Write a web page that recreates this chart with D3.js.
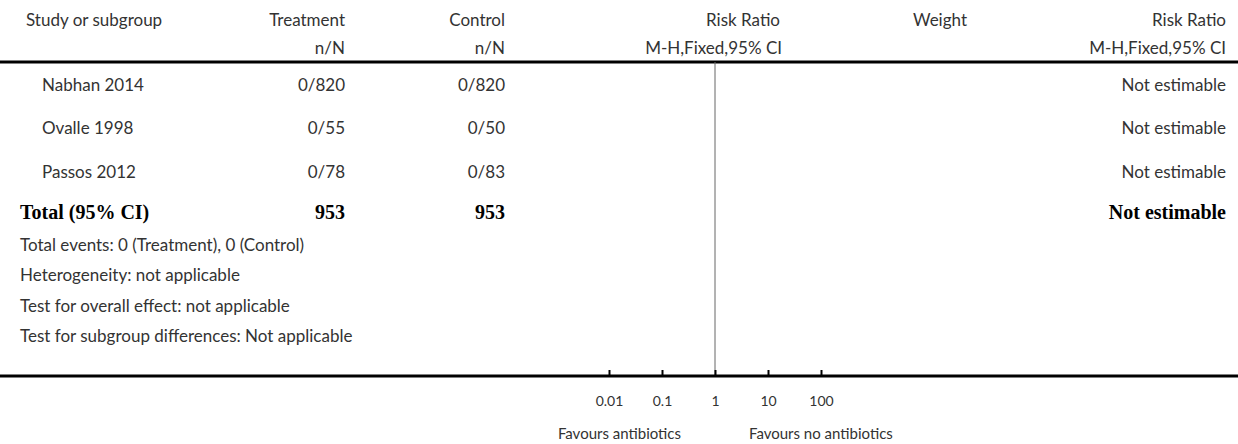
<!DOCTYPE html>
<html>
<head>
<meta charset="utf-8">
<script src="https://cdn.jsdelivr.net/npm/d3@7"></script>
<style>
  body { margin: 0; background: #fff; }
  text { font-family: Lato, "Open Sans", sans-serif; fill: #333; }
</style>
</head>
<body>
<div id="container"></div>
<script>
// ******* Data *******
var studies = ["Nabhan 2014", "Ovalle 1998", "Passos 2012"];
var treatment = ["0/820", "0/55", "0/78"];
var control = ["0/820", "0/50", "0/83"];
var estimates = ["Not estimable", "Not estimable", "Not estimable"];
var totalTreatment = "953";
var totalControl = "953";
var totalEstimate = "Not estimable";
var notes = [
  "Total events: 0 (Treatment), 0 (Control)",
  "Heterogeneity: not applicable",
  "Test for overall effect: not applicable",
  "Test for subgroup differences: Not applicable"
];
var ticks = [0.01, 0.1, 1, 10, 100];
var tickLabels = ["0.01", "0.1", "1", "10", "100"];
var favours = ["Favours antibiotics", "Favours no antibiotics"];

// ******* Setup *******
var width = 1238, height = 444;
var svg = d3.select("#container").append("svg")
  .attr("width", width)
  .attr("height", height);

var x = d3.scaleLog().domain([0.01, 100]).range([609, 821]);
var rowY = d3.scalePoint().domain(studies).range([85, 172]);
var noteY = d3.scalePoint().domain(notes).range([245, 336]);

function txt(x0, y0, s, anchor, size) {
  return svg.append("text")
    .attr("x", x0).attr("y", y0)
    .attr("dy", "0.35em")
    .attr("text-anchor", anchor || "start")
    .style("font-size", (size || 17) + "px")
    .text(s);
}

// ******* Header *******
txt(26, 20, "Study or subgroup");
txt(345, 20, "Treatment", "end");
txt(345, 48, "n/N", "end");
txt(505, 20, "Control", "end");
txt(505, 48, "n/N", "end");
txt(780, 20, "Risk Ratio", "end");
txt(782, 48, "M-H,Fixed,95% CI", "end");
txt(940, 20, "Weight", "middle");
txt(1226, 20, "Risk Ratio", "end");
txt(1226, 48, "M-H,Fixed,95% CI", "end");

svg.append("line")
  .attr("x1", 0).attr("x2", width)
  .attr("y1", 62).attr("y2", 62)
  .attr("stroke", "#000").attr("stroke-width", 3);

// ******* Study rows *******
studies.forEach(function(s, i) {
  var y = rowY(s);
  txt(42, y, s);
  txt(345, y, treatment[i], "end");
  txt(505, y, control[i], "end");
  txt(1226, y, estimates[i], "end");
});

// ******* Total *******
var serif = function(t) {
  return t.style("font-family", "'Liberation Serif', 'DejaVu Serif', serif")
    .style("font-weight", "bold").style("fill", "#000");
};
serif(txt(20, 212, "Total (95% CI)", "start", 20));
serif(txt(345, 212, totalTreatment, "end", 20));
serif(txt(505, 212, totalControl, "end", 20));
serif(txt(1226, 212, totalEstimate, "end", 20));

notes.forEach(function(n) {
  txt(20, noteY(n), n);
});

// ******* Line of no effect *******
svg.append("line")
  .attr("x1", x(1)).attr("x2", x(1))
  .attr("y1", 62).attr("y2", 376)
  .attr("stroke", "#666").attr("stroke-width", 1);

// ******* Axis *******
svg.append("line")
  .attr("x1", 0).attr("x2", width)
  .attr("y1", 376).attr("y2", 376)
  .attr("stroke", "#000").attr("stroke-width", 3);

var axis = d3.axisBottom(x)
  .tickValues(ticks)
  .tickFormat(function(d, i) { return tickLabels[i]; })
  .tickSizeInner(-6)
  .tickSizeOuter(0)
  .tickPadding(20);

var g = svg.append("g")
  .attr("transform", "translate(0,376)")
  .call(axis);
g.select(".domain").remove();
g.selectAll(".tick line").attr("stroke", "#000").attr("stroke-width", 2);
g.selectAll(".tick text")
  .style("font-family", "Lato, 'Open Sans', sans-serif")
  .style("font-size", "14px")
  .style("fill", "#333");

txt(x(1) - 34, 434, favours[0], "end", 15);
txt(x(1) + 34, 434, favours[1], "start", 15);
</script>
</body>
</html>
